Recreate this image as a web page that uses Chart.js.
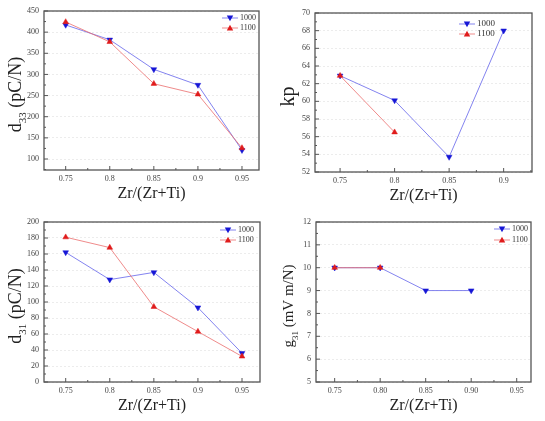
<!DOCTYPE html>
<html>
<head>
<meta charset="utf-8">
<script src="https://cdn.jsdelivr.net/npm/chart.js@4.4.1/dist/chart.umd.min.js"></script>
<style>
  body { margin: 0; background: #fff; width: 545px; height: 421px; position: relative; overflow: hidden; }
  canvas { position: absolute; }
</style>
</head>
<body>
<canvas id="c1" width="272" height="210" style="left:0;top:0"></canvas>
<canvas id="c2" width="273" height="210" style="left:272px;top:0"></canvas>
<canvas id="c3" width="272" height="211" style="left:0;top:210px"></canvas>
<canvas id="c4" width="273" height="211" style="left:272px;top:210px"></canvas>
<script>
// Zr/(Zr+Ti) ratios
const ratios = [0.75, 0.8, 0.85, 0.9, 0.95];
const ratiosKp = [0.75, 0.8, 0.85, 0.9];
const xTicks = [0.75, 0.8, 0.85, 0.9, 0.95];
const xTicksKp = [0.75, 0.8, 0.85, 0.9];
const xLabels = ['0.75', '0.8', '0.85', '0.9', '0.95'];
const xLabelsG = ['0.75', '0.80', '0.85', '0.90', '0.95'];

// series: sintering temperature 1000 / 1100
const seriesNames = ['1000', '1100'];
const d33_1000 = [417, 382, 312, 275, 121];
const d33_1100 = [424, 377, 278, 253, 126];
const kp_1000 = [62.9, 60.1, 53.7, 68.0];
const kp_1100 = [62.9, 56.5];
const d31_1000 = [162, 128, 137, 93, 36];
const d31_1100 = [181, 168, 94, 63, 32];
const g31_1000 = [10, 10, 9, 9];
const g31_1100 = [10, 10];

// y tick labels
const d33Ticks = [100, 150, 200, 250, 300, 350, 400, 450];
const kpTicks = [52, 54, 56, 58, 60, 62, 64, 66, 68, 70];
const d31Ticks = [0, 20, 40, 60, 80, 100, 120, 140, 160, 180, 200];
const g31Ticks = [5, 6, 7, 8, 9, 10, 11, 12];

const SERIF = '"Liberation Serif", "Times New Roman", serif';
const BLUE = '#1616d6', BLUE_LINE = 'rgba(100,100,235,0.8)';
const RED = '#e01b1b', RED_LINE = 'rgba(235,110,110,0.8)';

const pts = (xs, ys) => ys.map((v, i) => ({ x: xs[i], y: v }));

// Draw a triangle marker (down for 1000, up for 1100)
function tri(ctx, x, y, r, down, color) {
  ctx.fillStyle = color;
  ctx.beginPath();
  if (down) {
    ctx.moveTo(x - r, y - r * 0.75);
    ctx.lineTo(x + r, y - r * 0.75);
    ctx.lineTo(x, y + r);
  } else {
    ctx.moveTo(x - r, y + r * 0.75);
    ctx.lineTo(x + r, y + r * 0.75);
    ctx.lineTo(x, y - r);
  }
  ctx.closePath();
  ctx.fill();
}

// frame box, inward ticks, axis titles, legend
const decorPlugin = {
  id: 'decor',
  afterDraw(chart, args, o) {
    const { ctx, chartArea: a, scales: { x, y } } = chart;
    ctx.save();
    ctx.strokeStyle = '#555';
    ctx.lineWidth = 1.3;
    ctx.strokeRect(a.left, a.top, a.right - a.left, a.bottom - a.top);

    // ticks (major + minor) pointing inward
    ctx.lineWidth = 1;
    const drawTicks = (scale, horiz) => {
      const vals = scale.ticks.map(t => t.value);
      const step = vals[1] - vals[0];
      const minors = [];
      for (let i = -1; i < vals.length; i++) {
        const m = vals[0] + step * (i + 0.5);
        if (m > scale.min && m < scale.max) minors.push(m);
      }
      const one = (v, len) => {
        const p = scale.getPixelForValue(v);
        ctx.beginPath();
        if (horiz) { ctx.moveTo(p, a.bottom); ctx.lineTo(p, a.bottom - len); }
        else { ctx.moveTo(a.left, p); ctx.lineTo(a.left + len, p); }
        ctx.stroke();
      };
      vals.forEach(v => one(v, 4));
      minors.forEach(v => one(v, 2));
    };
    drawTicks(x, true);
    drawTicks(y, false);

    // x title
    ctx.fillStyle = '#222';
    ctx.font = '16px ' + SERIF;
    ctx.textAlign = 'center';
    ctx.textBaseline = 'middle';
    ctx.fillText('Zr/(Zr+Ti)', (a.left + a.right) / 2, a.bottom + 24);

    // y title with subscript, rotated
    const t = o.yTitle;
    ctx.translate(o.yTitleX, (a.top + a.bottom) / 2 + 4);
    ctx.rotate(-Math.PI / 2);
    ctx.textBaseline = 'alphabetic';
    ctx.textAlign = 'left';
    const big = t.size + 'px ' + SERIF, small = Math.round(t.size * 0.6) + 'px ' + SERIF;
    ctx.font = big;
    const w1 = ctx.measureText(t.main).width;
    const w3 = ctx.measureText(t.rest).width;
    ctx.font = small;
    const w2 = t.sub ? ctx.measureText(t.sub).width : 0;
    let cx = -(w1 + w2 + w3) / 2;
    ctx.font = big; ctx.fillText(t.main, cx, 0); cx += w1;
    if (t.sub) { ctx.font = small; ctx.fillText(t.sub, cx, t.size * 0.3); cx += w2; }
    ctx.font = big; ctx.fillText(t.rest, cx, 0);
    ctx.restore();

    // legend
    const L = o.legend;
    ctx.save();
    ctx.font = L.size + 'px ' + SERIF;
    ctx.textBaseline = 'middle';
    ctx.textAlign = 'left';
    seriesNames.forEach((name, i) => {
      const ds = chart.data.datasets.find(d => d.label === name);
      const yy = a.top + L.dy + i * L.gap;
      const x0 = a.right - L.dx;
      ctx.strokeStyle = ds.borderColor;
      ctx.lineWidth = 1;
      ctx.beginPath(); ctx.moveTo(x0, yy); ctx.lineTo(x0 + 16, yy); ctx.stroke();
      tri(ctx, x0 + 8, yy, 3.2, i === 0, ds.pointBackgroundColor);
      ctx.fillStyle = '#333';
      ctx.fillText(name, x0 + 18, yy);
    });
    ctx.restore();
  }
};

function makeChart(id, cfg) {
  const datasets = [
    { label: '1000', data: cfg.s1000, borderColor: BLUE_LINE, pointBackgroundColor: BLUE, pointBorderColor: BLUE,
      pointStyle: 'triangle', rotation: 180, order: 1 },
    { label: '1100', data: cfg.s1100, borderColor: RED_LINE, pointBackgroundColor: RED, pointBorderColor: RED,
      pointStyle: 'triangle', rotation: 0, order: 0 }
  ].map(d => Object.assign(d, { borderWidth: 1, pointRadius: 3.3, pointBorderWidth: 0.5, tension: 0, fill: false }));

  return new Chart(document.getElementById(id), {
    type: 'line',
    data: { datasets },
    options: {
      responsive: false,
      animation: false,
      events: [],
      layout: { padding: { top: cfg.pad.top, right: cfg.pad.right, left: 0, bottom: 0 } },
      plugins: {
        legend: { display: false },
        tooltip: { enabled: false },
        decor: { yTitle: cfg.yTitle, yTitleX: cfg.yTitleX, legend: cfg.legend }
      },
      scales: {
        x: {
          type: 'linear', min: cfg.xMin, max: cfg.xMax,
          afterBuildTicks: s => { s.ticks = cfg.xTicks.map(v => ({ value: v })); },
          afterFit: s => { s.height = cfg.xH; },
          grid: { display: false, drawTicks: false },
          border: { display: false },
          ticks: {
            padding: 4, color: '#444', font: { family: SERIF, size: 8 },
            callback: (v, i) => cfg.xLabels[i]
          }
        },
        y: {
          type: 'linear', min: cfg.yMin, max: cfg.yMax,
          afterBuildTicks: s => { s.ticks = cfg.yTicks.map(v => ({ value: v })); },
          afterFit: s => { s.width = cfg.yW; },
          grid: { color: '#e8e8e8', drawTicks: false, lineWidth: 0.8 },
          border: { display: false, dash: [2, 2] },
          ticks: {
            padding: 5, color: '#444', font: { family: SERIF, size: 8 },
            callback: v => String(v)
          }
        }
      }
    },
    plugins: [decorPlugin]
  });
}

makeChart('c1', {
  s1000: pts(ratios, d33_1000), s1100: pts(ratios, d33_1100),
  xMin: 0.7254, xMax: 0.9693, xTicks, xLabels,
  yMin: 74, yMax: 450, yTicks: d33Ticks,
  pad: { top: 11, right: 13 }, yW: 44, xH: 40,
  yTitle: { main: 'd', sub: '33', rest: ' (pC/N)', size: 18 }, yTitleX: 21,
  legend: { dx: 37, dy: 7, gap: 10, size: 8 }
});

makeChart('c2', {
  s1000: pts(ratiosKp, kp_1000), s1100: pts(ratiosKp, kp_1100),
  xMin: 0.727, xMax: 0.926, xTicks: xTicksKp, xLabels,
  yMin: 52, yMax: 70, yTicks: kpTicks,
  pad: { top: 13, right: 13 }, yW: 43, xH: 38,
  yTitle: { main: 'kp', sub: '', rest: '', size: 20 }, yTitleX: 22,
  legend: { dx: 73, dy: 11, gap: 10, size: 9 }
});

makeChart('c3', {
  s1000: pts(ratios, d31_1000), s1100: pts(ratios, d31_1100),
  xMin: 0.7254, xMax: 0.9704, xTicks, xLabels,
  yMin: 0, yMax: 200, yTicks: d31Ticks,
  pad: { top: 12, right: 12 }, yW: 44, xH: 39,
  yTitle: { main: 'd', sub: '31', rest: ' (pC/N)', size: 18 }, yTitleX: 21,
  legend: { dx: 40, dy: 8, gap: 10, size: 8 }
});

makeChart('c4', {
  s1000: pts(ratiosKp, g31_1000), s1100: pts(ratiosKp, g31_1100),
  xMin: 0.7295, xMax: 0.9657, xTicks, xLabels: xLabelsG,
  yMin: 5, yMax: 12, yTicks: g31Ticks,
  pad: { top: 12, right: 14 }, yW: 44, xH: 39,
  yTitle: { main: 'g', sub: '31', rest: ' (mV m/N)', size: 15 }, yTitleX: 21,
  legend: { dx: 37, dy: 7, gap: 11, size: 8 }
});
</script>
</body>
</html>
